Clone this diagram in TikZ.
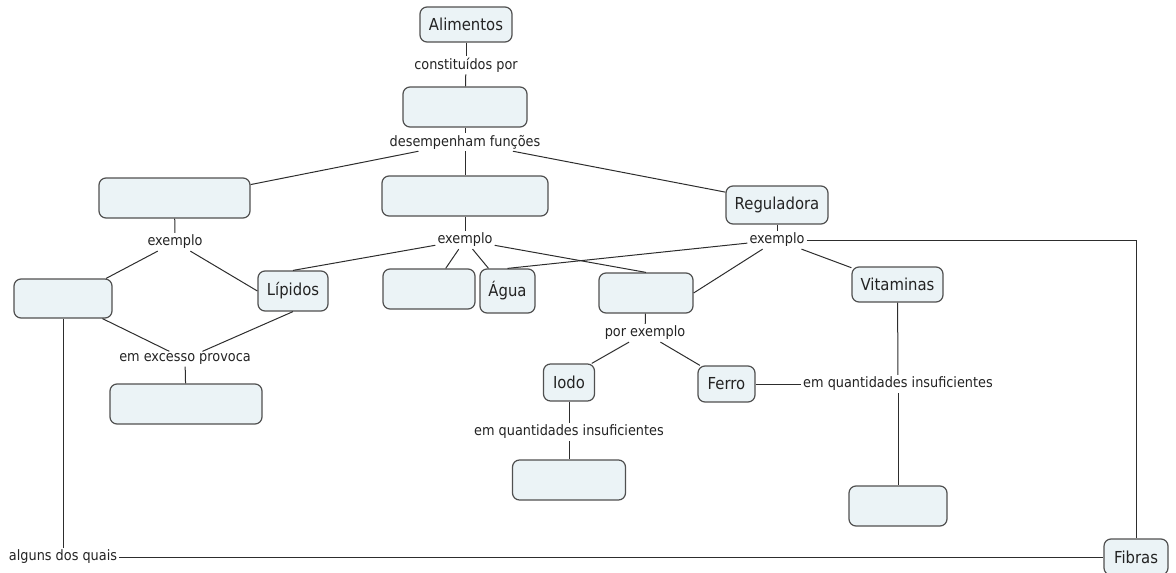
\documentclass[tikz,border=0pt]{standalone}
\usepackage{fontspec}
\setmainfont{DejaVu Sans}[FakeStretch=0.9]
\usepackage{tikz}
\usetikzlibrary{positioning}

\definecolor{cfill}{RGB}{235,243,246}
\definecolor{cedge}{RGB}{80,80,80}
\definecolor{cline}{RGB}{45,45,45}
\definecolor{ctext}{RGB}{35,35,35}

\tikzset{
	concept/.style={
		draw=cedge,
		fill=cfill,
		line width=1.2pt,
		rounded corners=7pt,
		inner sep=0pt,
		text=ctext,
		font=\fontsize{16.5}{18}\selectfont
	},
	linkword/.style={
		inner sep=2pt,
		text=ctext,
		font=\fontsize{14.3}{16}\selectfont
	},
	conn/.style={
		draw=cline,
		line width=1pt
	}
}

\begin{document}
\begin{tikzpicture}[x=1pt,y=-1pt]
		
		\useasboundingbox (0,0) rectangle (1176,573);
		
		% concepts
		\node[concept, minimum width=92pt, minimum height=35pt] (alim) at (466,24.5) {Alimentos};
		\node[concept, minimum width=124pt, minimum height=40pt] (nutr) at (465,107) {};
		\node[concept, minimum width=151pt, minimum height=40pt] (energ) at (174.5,198) {};
		\node[concept, minimum width=166pt, minimum height=40pt] (plast) at (465,196) {};
		\node[concept, minimum width=102pt, minimum height=38pt] (reg) at (777,205) {Reguladora};
		\node[concept, minimum width=98pt, minimum height=39pt] (gluc) at (63,298.5) {};
		\node[concept, minimum width=70pt, minimum height=40pt] (lip) at (293,291) {Lípidos};
		\node[concept, minimum width=92pt, minimum height=40pt] (prot) at (429,289) {};
		\node[concept, minimum width=55pt, minimum height=44pt] (agua) at (507.5,291) {Água};
		\node[concept, minimum width=94pt, minimum height=40pt] (miner) at (646,293) {};
		\node[concept, minimum width=91pt, minimum height=35pt] (vit) at (897.5,284.5) {Vitaminas};
		\node[concept, minimum width=152pt, minimum height=40pt] (obes) at (186,404) {};
		\node[concept, minimum width=51pt, minimum height=37pt] (iodo) at (569,382.5) {Iodo};
		\node[concept, minimum width=57pt, minimum height=36pt] (ferro) at (726.5,384) {Ferro};
		\node[concept, minimum width=113pt, minimum height=40pt] (bocio) at (569,480) {};
		\node[concept, minimum width=98pt, minimum height=40pt] (aviv) at (898,506) {};
		\node[concept, minimum width=64pt, minimum height=36pt] (fib) at (1136,557) {Fibras};
		
		% linking words
		\node[linkword] (constit) at (466,65) {constituídos por};
		\node[linkword] (desemp) at (465,142) {desempenham funções};
		\node[linkword] (exL) at (175,242) {exemplo};
		\node[linkword] (exC) at (465,240) {exemplo};
		\node[linkword] (exR) at (777,240) {exemplo};
		\node[linkword] (excesso) at (185,359) {em excesso provoca};
		\node[linkword] (porex) at (645,333) {por exemplo};
		\node[linkword] (qtdI) at (569,432) {em quantidades insuficientes};
		\node[linkword] (qtdR) at (898,384) {em quantidades insuficientes};
		\node[linkword] (alguns) at (63,557) {alguns dos quais};
		
		% connections
		\draw[conn] (alim) -- (constit);
		\draw[conn] (constit) -- (nutr);
		\draw[conn] (nutr) -- (desemp);
		\draw[conn] (desemp) -- (energ.10);
		\draw[conn] (desemp) -- (plast);
		\draw[conn] (desemp) -- (reg.166);
		
		\draw[conn] (energ) -- (exL);
		\draw[conn] (exL) -- (gluc.25);
		\draw[conn] (exL) -- (lip.west);
		
		\draw[conn] (plast) -- (exC);
		\draw[conn] (exC) -- (lip.north);
		\draw[conn] (exC) -- (prot.51);
		\draw[conn] (exC) -- (agua.130);
		\draw[conn] (exC) -- (miner.north);
		
		\draw[conn] (reg) -- (exR);
		\draw[conn] (exR) -- (agua.north);
		\draw[conn] (exR) -- (miner.east);
		\draw[conn] (exR) -- (vit.160);
		\draw[conn] (exR) -| (fib);
		
		\draw[conn] (gluc.-27) -- (excesso);
		\draw[conn] (lip.south) -- (excesso);
		\draw[conn] (excesso) -- (obes);
		
		\draw[conn] (gluc) -- (alguns);
		\draw[conn] (alguns) -- (fib);
		
		\draw[conn] (miner) -- (porex);
		\draw[conn] (porex) -- (iodo.40);
		\draw[conn] (porex) -- (ferro.145);
		\draw[conn] (iodo) -- (qtdI);
		\draw[conn] (qtdI) -- (bocio);
		
		\draw[conn] (ferro) -- (qtdR);
		\draw[conn] (vit) -- (qtdR);
		\draw[conn] (qtdR) -- (aviv);
		
	\end{tikzpicture}
\end{document}
